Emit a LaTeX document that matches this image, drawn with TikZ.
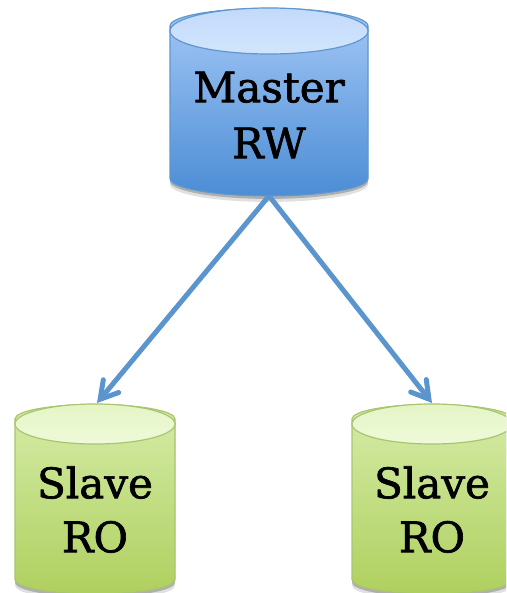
\documentclass[tikz,border=0pt]{standalone}
\usepackage{fontspec}
\setmainfont{DejaVu Serif}[RawFeature={embolden=1.6}]
\usetikzlibrary{shapes.geometric,shadows,arrows.meta}
\definecolor{arrowblue}{HTML}{5B95CE}
\definecolor{masterline}{HTML}{5F97CF}
\definecolor{masterlight}{HTML}{A3C8F6}
\definecolor{masterdark}{HTML}{4C8DD5}
\definecolor{mastercapa}{HTML}{C2DAFB}
\definecolor{mastercapb}{HTML}{D2E5FC}
\definecolor{slaveline}{HTML}{A9C56E}
\definecolor{slavelight}{HTML}{D5ECA8}
\definecolor{slavedark}{HTML}{AFD05F}
\definecolor{slavecapa}{HTML}{E4F5C6}
\definecolor{slavecapb}{HTML}{EFFAD9}
\tikzset{
  softshadow/.style={drop shadow={shadow xshift=0pt,shadow yshift=-6pt,opacity=.12,fill=black},
    drop shadow={shadow xshift=0pt,shadow yshift=-3pt,opacity=.22,fill=black}},
  dbcyl/.style={cylinder,shape border rotate=90,draw,line width=1.2pt,
    outer sep=0pt,inner sep=0pt,align=center,text=black,softshadow},
  master/.style={dbcyl,draw=masterline,top color=masterlight,bottom color=masterdark,
    minimum width=198pt,minimum height=187.5pt,aspect=.232,font=\fontsize{42}{56}\selectfont},
  slave/.style={dbcyl,draw=slaveline,top color=slavelight,bottom color=slavedark,
    minimum width=160pt,minimum height=189.5pt,aspect=.25,font=\fontsize{42}{54}\selectfont},
  mastercap/.style={draw=masterline,line width=1.2pt,top color=mastercapa,bottom color=mastercapb},
  slavecap/.style={draw=slaveline,line width=1.2pt,top color=slavecapa,bottom color=slavecapb},
  link/.style={arrowblue,line width=5pt,-{Straight Barb[length=17pt,width=20pt,line cap=round,line width=5pt]}}
}
\begin{document}
\begin{tikzpicture}[x=1pt,y=-1pt]
    \useasboundingbox (0,0) rectangle (506,593);
    \clip (0,0) rectangle (506,593);
    \node[master] (Master) at (269,111.25) {\rule{0pt}{38pt}Master\\RW};
    \node[slave] (Slave-L) at (95,506.75) {\rule{0pt}{37.5pt}Slave\\RO};
    \node[slave] (Slave-R) at (432,506.75) {\rule{0pt}{37.5pt}Slave\\RO};

    % top faces
    \foreach \x/\y/\rx/\ry/\sty in {269/31/99/23/mastercap, 95/424/80/20/slavecap, 432/424/80/20/slavecap}
        \draw[\sty] (\x,\y) ellipse [x radius=\rx,y radius=\ry];

    \coordinate (Left-Tip) at (97,403);
    \coordinate (Right-Tip) at (432,403);
    \foreach \to in {Left-Tip,Right-Tip}
        \draw[link] (Master.south) -- (\to);
\end{tikzpicture}
\end{document}
